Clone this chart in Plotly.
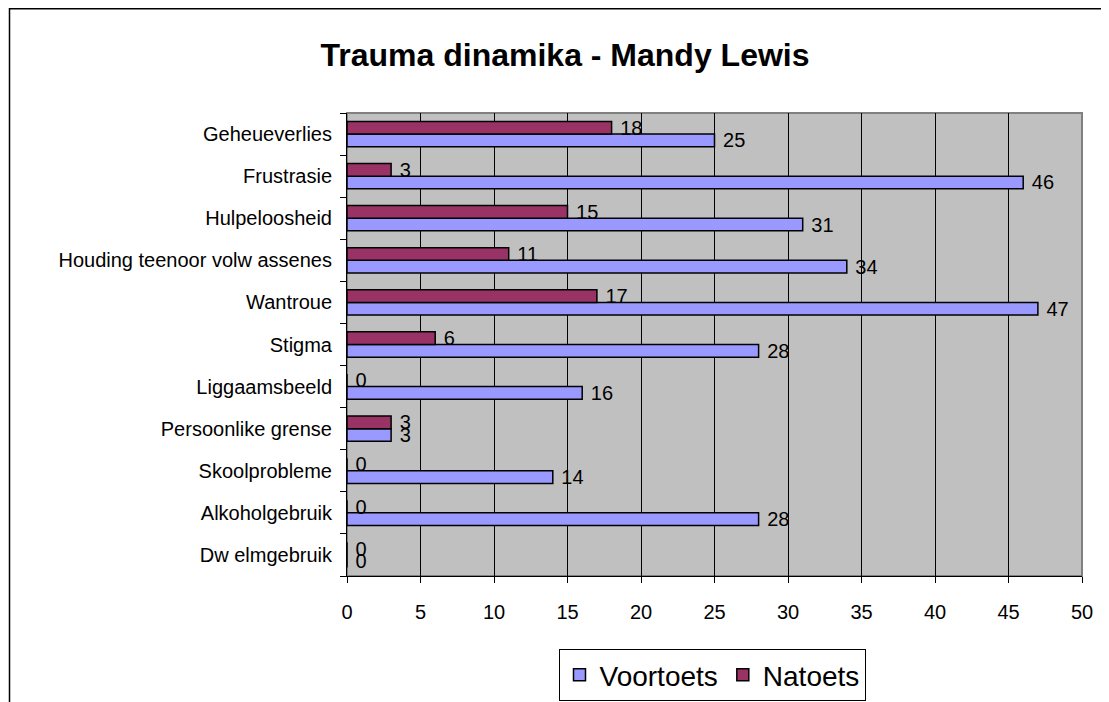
import plotly.graph_objects as go

# categories listed bottom -> top (plotly draws first category at bottom)
categories = ["Dw elmgebruik", "Alkoholgebruik", "Skoolprobleme", "Persoonlike grense",
              "Liggaamsbeeld", "Stigma", "Wantroue", "Houding teenoor volw assenes",
              "Hulpeloosheid", "Frustrasie", "Geheueverlies"]
voortoets = [0, 28, 14, 3, 16, 28, 47, 34, 31, 46, 25]
natoets = [0, 0, 0, 3, 0, 6, 17, 11, 15, 3, 18]
x_ticks = [0, 5, 10, 15, 20, 25, 30, 35, 40, 45, 50]

FONT = "Arial, Liberation Sans, sans-serif"
OFF = 8  # page body margin offset

fig = go.Figure()
fig.add_trace(go.Bar(y=categories, x=voortoets, name="Voortoets", orientation="h",
                     marker=dict(color="#9999FF", line=dict(color="black", width=1.5)),
                     text=voortoets, texttemplate=" %{x}", textposition="outside",
                     cliponaxis=False, constraintext="none",
                     textfont=dict(size=20, color="black", family=FONT)))
fig.add_trace(go.Bar(y=categories, x=natoets, name="Natoets", orientation="h",
                     marker=dict(color="#993366", line=dict(color="black", width=1.5)),
                     text=natoets, texttemplate=" %{x}", textposition="outside",
                     cliponaxis=False, constraintext="none",
                     textfont=dict(size=20, color="black", family=FONT)))

W, H = 1109 - OFF, 702 - OFF
L, R, T, B = 347 - OFF, 27, 113 - OFF, 126
pw, ph = W - L - R, H - T - B

fig.update_layout(
    width=W, height=H,
    margin=dict(l=L, r=R, t=T, b=B, autoexpand=False),
    paper_bgcolor="white", plot_bgcolor="#C0C0C0",
    barmode="group", bargap=0.4, bargroupgap=0,
    font=dict(family=FONT, size=20, color="black"),
    title=dict(text="<b>Trauma dinamika - Mandy Lewis</b>", x=(565 - OFF) / W, xref="container",
               xanchor="center", y=1 - (55 - OFF) / H, yref="container", yanchor="middle",
               font=dict(size=32, family=FONT, color="black")),
    legend=dict(orientation="h", x=(712 - OFF) / W, xanchor="center", xref="container",
                y=1 - (649 - OFF) / H, yanchor="top", yref="container",
                bordercolor="black", borderwidth=1, bgcolor="white",
                font=dict(size=28, family=FONT), traceorder="normal",
                itemwidth=30),
    showlegend=True,
)
fig.update_xaxes(range=[0, 50], tickvals=x_ticks, showgrid=True, gridcolor="black",
                 gridwidth=1, zeroline=False, showline=True, linecolor="black",
                 linewidth=1, ticks="outside", ticklen=6, tickcolor="black",
                 ticklabelstandoff=12, tickfont=dict(size=20))
fig.update_yaxes(categoryorder="array", categoryarray=categories, showgrid=False,
                 showline=True, linecolor="black", linewidth=1, ticks="outside",
                 tickson="boundaries", ticklen=6, tickcolor="black",
                 ticklabelstandoff=10, tickfont=dict(size=20))

# plot-area border (gray) and outer chart frame
fig.add_shape(type="rect", xref="paper", yref="paper", x0=0, x1=1, y0=0, y1=1,
              line=dict(color="#808080", width=2), layer="below")
bottom = H - B
fig.add_shape(type="rect", xref="paper", yref="paper",
              x0=(1.5 - L) / pw, x1=(W + 20 - L) / pw,
              y0=(bottom - (H + 20)) / ph, y1=(bottom - 0.75) / ph,
              line=dict(color="black", width=1.5))

fig.write_html("out.html")
